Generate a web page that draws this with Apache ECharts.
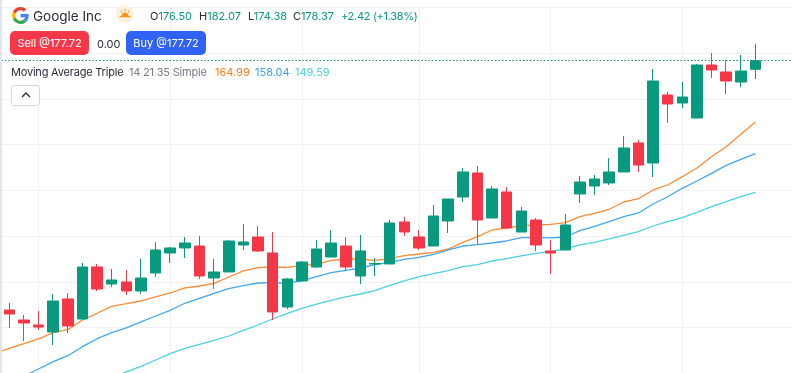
<!DOCTYPE html>
<html>
<head>
<meta charset="utf-8">
<title>Google Inc</title>
<script src="https://cdn.jsdelivr.net/npm/echarts@6/dist/echarts.min.js"></script>
<style>
html, body { margin: 0; padding: 0; background: #fff; }
body { width: 792px; height: 373px; overflow: hidden; position: relative; font-family: Inter, "Noto Sans", sans-serif; }
#main { position: absolute; left: 0; top: 0; width: 792px; height: 373px; }
#strip { position: absolute; left: 0; top: 0; width: 2px; height: 373px; background: #e1e4f1; }
.t { position: absolute; white-space: nowrap; font-size: 11px; line-height: 14px; color: #2a2e39; }
.up { color: #089a7e; }
.btn { position: absolute; top: 31px; height: 24px; line-height: 24px; text-align: center; color: #fff; font-size: 11px; border-radius: 5px; }
</style>
</head>
<body>
<div id="main"></div>
<div id="strip"></div>

<svg style="position:absolute;left:12px;top:7px" width="17" height="17" viewBox="0 0 48 48">
  <path fill="#EA4335" d="M24 9.5c3.5 0 6.700 1.200 9.200 3.600l6.900-6.900C35.900 2.400 30.500 0 24 0 14.600 0 6.500 5.400 2.600 13.200l8 6.200C12.500 13.700 17.800 9.500 24 9.500z"/>
  <path fill="#4285F4" d="M47 24.500c0-1.600-.1-3.100-.4-4.500H24v9h12.900c-.6 3-2.200 5.500-4.700 7.200l7.700 6C44.400 37.900 47 31.800 47 24.500z"/>
  <path fill="#FBBC05" d="M10.500 28.600c-.5-1.400-.8-3-.8-4.600s.3-3.200.8-4.600l-8-6.200C.9 16.400 0 20.100 0 24s.9 7.600 2.600 10.800l7.900-6.200z"/>
  <path fill="#34A853" d="M24 48c6.500 0 11.900-2.100 15.900-5.800l-7.700-6c-2.200 1.400-4.900 2.300-8.200 2.300-6.200 0-11.500-4.200-13.400-9.900l-8 6.200C6.500 42.600 14.600 48 24 48z"/>
</svg>
<div class="t" style="left:33px;top:8px;font-size:13.5px;line-height:16px">Google Inc</div>

<svg style="position:absolute;left:116px;top:5px" width="18" height="18" viewBox="0 0 18 18">
  <circle cx="9" cy="9" r="9" fill="#fdf0dc"/>
  <path d="M5.500 11a3.500 3.500 0 0 1 7 0z" fill="#f7941d"/>
  <path d="M3.500 11.700h11M9 4.300v1.600M4.800 6l1.100 1.100M13.200 6l-1.100 1.100" stroke="#f7941d" stroke-width="1.200" fill="none"/>
</svg>

<div class="t" style="left:150px;top:9px">O<span class="up">176.50</span></div>
<div class="t" style="left:199px;top:9px">H<span class="up">182.07</span></div>
<div class="t" style="left:248px;top:9px">L<span class="up">174.38</span></div>
<div class="t" style="left:293px;top:9px">C<span class="up">178.37</span></div>
<div class="t up" style="left:341px;top:9px;letter-spacing:-0.3px">+2.42 (+1.38%)</div>

<div class="btn" style="left:10px;width:79px;background:#f63748">Sell @177.72</div>
<div class="t" style="left:97px;top:37px">0.00</div>
<div class="btn" style="left:126px;width:80px;background:#2f62f5">Buy @177.72</div>

<div class="t" style="left:11px;top:65px;letter-spacing:-0.2px">Moving Average Triple</div>
<div class="t" style="left:129px;top:65px;color:#787b86;letter-spacing:-0.2px">14 21 35 Simple</div>
<div class="t" style="left:215px;top:65px;color:#f57c1f">164.99</div>
<div class="t" style="left:255px;top:65px;color:#3d9ef0">158.04</div>
<div class="t" style="left:295px;top:65px;color:#4dd0e1">149.59</div>

<div style="position:absolute;left:11px;top:85px;width:27px;height:19px;border:1px solid #d5d8e0;border-radius:3px;background:#fff"></div>
<svg style="position:absolute;left:20px;top:91px" width="12" height="8" viewBox="0 0 12 8">
  <path d="M2 6l4-4 4 4" stroke="#2a2e39" stroke-width="1.300" fill="none"/>
</svg>

<script>
// first slot sits just off the left edge, the ma lines come in from it
var categories = ['', 'd1', 'd2', 'd3', 'd4', 'd5', 'd6', 'd7', 'd8', 'd9', 'd10', 'd11', 'd12', 'd13', 'd14', 'd15', 'd16', 'd17', 'd18', 'd19', 'd20', 'd21', 'd22', 'd23', 'd24', 'd25', 'd26', 'd27', 'd28', 'd29', 'd30', 'd31', 'd32', 'd33', 'd34', 'd35', 'd36', 'd37', 'd38', 'd39', 'd40', 'd41', 'd42', 'd43', 'd44', 'd45', 'd46', 'd47', 'd48', 'd49', 'd50', 'd51', 'd52', '', ''];

// open, close, low, high
var candles = [
    ['-', '-', '-', '-'],
    [123.83, 122.96, 119.90, 125.36],
    [121.64, 120.99, 117.05, 122.74],
    [120.55, 120.11, 119.46, 123.61],
    [119.02, 125.80, 116.17, 127.33],
    [126.24, 120.33, 118.80, 127.55],
    [121.86, 133.24, 121.64, 134.12],
    [133.24, 128.43, 127.99, 133.90],
    [129.52, 130.40, 128.86, 132.80],
    [129.96, 127.99, 127.11, 132.58],
    [127.99, 130.83, 127.33, 135.00],
    [131.93, 136.96, 131.05, 138.71],
    [136.30, 137.40, 134.12, 137.62],
    [137.40, 138.49, 135.21, 139.80],
    [137.83, 131.27, 130.62, 140.02],
    [130.83, 132.15, 128.43, 135.00],
    [132.15, 138.93, 132.15, 139.15],
    [138.05, 138.71, 136.96, 142.65],
    [139.80, 136.74, 136.52, 142.21],
    [136.30, 123.40, 121.64, 140.90],
    [124.49, 130.62, 124.05, 130.83],
    [130.18, 134.33, 130.18, 134.55],
    [133.24, 137.18, 133.02, 139.15],
    [135.43, 138.49, 135.43, 141.34],
    [137.83, 133.24, 132.37, 139.80],
    [131.27, 136.74, 129.52, 140.24],
    [133.90, 134.00, 131.27, 135.21],
    [133.90, 142.87, 133.90, 143.52],
    [143.09, 140.90, 140.02, 144.18],
    [139.80, 137.40, 136.96, 141.34],
    [137.83, 144.40, 137.83, 146.81],
    [143.31, 148.12, 140.68, 148.12],
    [148.56, 154.03, 147.46, 154.90],
    [153.81, 143.52, 138.27, 155.34],
    [143.96, 150.31, 143.96, 150.96],
    [149.65, 141.77, 141.77, 150.74],
    [140.90, 145.49, 140.90, 146.37],
    [143.52, 138.05, 136.74, 143.96],
    [136.74, 136.30, 131.71, 139.15],
    [136.96, 142.43, 136.96, 144.83],
    [149.21, 151.84, 147.24, 153.15],
    [150.96, 152.50, 148.99, 153.37],
    [151.62, 154.03, 151.18, 157.09],
    [154.03, 159.28, 154.03, 161.90],
    [160.37, 155.56, 154.03, 161.03],
    [155.99, 173.94, 152.93, 176.56],
    [170.87, 168.90, 164.75, 171.53],
    [169.12, 170.44, 168.03, 173.72],
    [165.84, 177.44, 165.84, 177.66],
    [177.44, 176.34, 174.59, 180.06],
    [175.91, 173.94, 171.09, 178.53],
    [173.72, 176.12, 172.62, 179.63],
    [176.50, 178.37, 174.38, 182.07]
];

var ma14 = [114.31, 115.45, 116.46, 117.49, 118.87, 119.52, 121.64, 123.11, 124.64, 125.21, 125.80, 126.68, 127.55, 128.65, 129.08, 129.67, 131.05, 132.37, 133.09, 133.24, 133.17, 133.61, 133.83, 134.71, 134.99, 134.99, 134.71, 135.06, 135.71, 136.08, 136.46, 137.18, 138.64, 139.87, 141.34, 141.77, 142.28, 142.43, 142.58, 142.93, 144.25, 144.99, 145.87, 147.46, 148.18, 150.09, 151.18, 153.00, 154.90, 157.37, 159.56, 162.28, 164.99];
var ma21 = ['-', '-', 109.39, 110.92, 112.52, 113.83, 115.80, 117.55, 118.87, 119.90, 121.21, 122.52, 123.77, 125.30, 126.39, 127.49, 128.49, 129.15, 129.74, 129.81, 129.74, 130.18, 131.12, 132.00, 132.52, 133.02, 133.74, 134.27, 134.92, 135.36, 136.02, 136.96, 137.83, 138.12, 138.49, 138.93, 139.65, 139.74, 139.59, 139.80, 141.18, 142.15, 143.15, 144.25, 145.06, 147.02, 148.62, 150.46, 152.06, 153.74, 155.49, 156.80, 158.04];
var ma35 = ['-', '-', '-', '-', '-', '-', '-', '-', 108.95, 110.27, 111.51, 112.89, 114.27, 115.45, 116.33, 117.20, 118.14, 119.39, 120.55, 121.86, 123.11, 124.20, 125.14, 125.95, 126.68, 127.33, 128.05, 129.24, 130.18, 131.12, 131.77, 132.43, 133.31, 133.74, 134.55, 135.06, 135.65, 136.24, 136.68, 137.18, 138.06, 138.65, 139.37, 140.18, 140.97, 142.21, 143.15, 144.03, 145.21, 146.43, 147.53, 148.62, 149.59];

var lastClose = 178.37;
// month starts, the vertical grid lines
var monthStarts = [3, 12, 21, 29, 38, 47];

var chart = echarts.init(document.getElementById('main'), null, { renderer: 'canvas' });

function maSeries(name, data, color) {
    return {
        name: name,
        type: 'line',
        data: data,
        symbol: 'none',
        silent: true,
        z: 1,
        lineStyle: { color: color, width: 1.3 }
    };
}

chart.setOption({
    animation: false,
    backgroundColor: '#fff',
    grid: { left: -12.63, top: 7.6, width: 804.65, height: 365.6, outerBoundsMode: 'none' },
    xAxis: {
        type: 'category',
        data: categories,
        axisLine: { show: false },
        axisTick: { show: false },
        axisLabel: { show: false },
        splitLine: {
            show: true,
            alignWithLabel: true,
            interval: function (index) {
                return monthStarts.indexOf(index) >= 0;
            },
            lineStyle: { color: '#f1f1f4', width: 1 }
        }
    },
    yAxis: {
        type: 'value',
        min: 110,
        max: 190,
        interval: 10,
        axisLine: { show: false },
        axisTick: { show: false },
        axisLabel: { show: false },
        splitLine: { show: true, lineStyle: { color: '#f1f1f4', width: 1 } }
    },
    series: [
        maSeries('MA 14', ma14, '#ff8a33'),
        maSeries('MA 21', ma21, '#42a5f5'),
        maSeries('MA 35', ma35, '#4dd0e1'),
        {
            name: 'Google Inc',
            type: 'candlestick',
            data: candles,
            barWidth: 11,
            z: 3,
            itemStyle: {
                color: '#089a7e',
                color0: '#f63748',
                borderColor: '#089a7e',
                borderColor0: '#f63748',
                borderWidth: 1
            },
            markLine: {
                silent: true,
                symbol: 'none',
                label: { show: false },
                lineStyle: { color: '#078a72', type: [1.5, 2], width: 1.2 },
                data: [{ yAxis: lastClose }]
            }
        }
    ]
});
</script>
</body>
</html>
